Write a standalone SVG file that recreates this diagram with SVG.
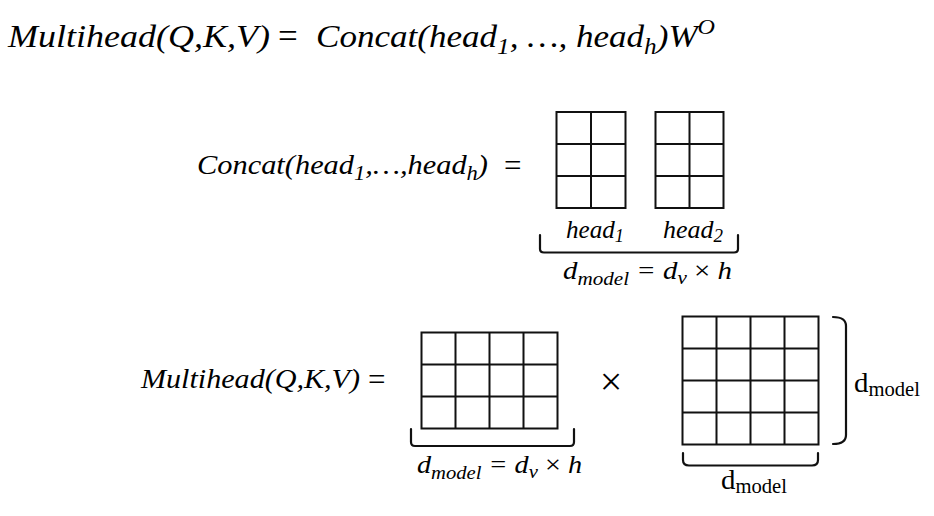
<svg xmlns="http://www.w3.org/2000/svg" width="934" height="516" viewBox="0 0 934 516">
<style>
.m{font-family:"Liberation Serif","Times New Roman",serif;font-style:italic;fill:#000}
.r{font-family:"Liberation Serif","Times New Roman",serif;fill:#000}
.g{fill:none;stroke:#111;stroke-width:2}
.b{fill:none;stroke:#111;stroke-width:2.2;stroke-linecap:round}
</style>
<rect width="934" height="516" fill="#fff"/>
<g id="title">
<text class="m" x="8" y="47" font-size="32" textLength="262" lengthAdjust="spacingAndGlyphs">Multihead(Q,K,V)</text>
<text class="r" x="278" y="48" font-size="35">=</text>
<text class="m" x="316" y="47" font-size="32" textLength="399" lengthAdjust="spacingAndGlyphs">Concat(head<tspan font-size="23" dy="7">1</tspan><tspan dy="-7">, …, head</tspan><tspan font-size="23" dy="7">h</tspan><tspan dy="-7">)W</tspan><tspan font-size="22" dy="-13">O</tspan></text>
</g>
<g id="concat-eq">
<text class="m" x="197" y="174" font-size="27" textLength="291" lengthAdjust="spacingAndGlyphs">Concat(head<tspan font-size="20" dy="6">1</tspan><tspan dy="-6">,…,head</tspan><tspan font-size="20" dy="6">h</tspan><tspan dy="-6">)</tspan></text>
<text class="r" x="504" y="176" font-size="31">=</text>
</g>
<g id="head1">
<rect class="g" x="556.5" y="112" width="69" height="96"/>
<path class="g" d="M591,112V208M556.5,144H625.5M556.5,176H625.5"/>
<text class="m" x="566" y="238" font-size="26" textLength="58" lengthAdjust="spacingAndGlyphs">head<tspan font-size="19" dy="4">1</tspan></text>
</g>
<g id="head2">
<rect class="g" x="655.5" y="112" width="68" height="96"/>
<path class="g" d="M689.5,112V208M655.5,144H723.5M655.5,176H723.5"/>
<text class="m" x="663" y="238" font-size="26" textLength="60" lengthAdjust="spacingAndGlyphs">head<tspan font-size="19" dy="4">2</tspan></text>
</g>
<g id="concat-dim">
<text class="m" x="563" y="279" font-size="26" textLength="169" lengthAdjust="spacingAndGlyphs">d<tspan font-size="19" dy="6">model</tspan><tspan dy="-6"> = d</tspan><tspan font-size="19" dy="5">v</tspan><tspan dy="-5" font-style="normal"> × </tspan><tspan>h</tspan></text>
</g>
<g id="multihead-eq">
<text class="m" x="141" y="388" font-size="28" textLength="219" lengthAdjust="spacingAndGlyphs">Multihead(Q,K,V)</text>
<text class="r" x="368" y="390" font-size="31">=</text>
</g>
<g id="concat-matrix">
<rect class="g" x="421.5" y="332.5" width="136" height="96"/>
<path class="g" d="M455.5,332.5V428.5M489.5,332.5V428.5M523.5,332.5V428.5M421.5,364.5H557.5M421.5,396.5H557.5"/>
<text class="m" x="417" y="473" font-size="26" textLength="165" lengthAdjust="spacingAndGlyphs">d<tspan font-size="19" dy="6">model</tspan><tspan dy="-6"> = d</tspan><tspan font-size="19" dy="5">v</tspan><tspan dy="-5" font-style="normal"> × </tspan><tspan>h</tspan></text>
</g>
<g id="times">
<text class="r" x="611" y="395" font-size="40" text-anchor="middle">×</text>
</g>
<g id="wo-matrix">
<rect class="g" x="682.5" y="316.5" width="136" height="128"/>
<path class="g" d="M716.5,316.5V444.5M750.5,316.5V444.5M784.5,316.5V444.5M682.5,348.5H818.5M682.5,380.5H818.5M682.5,412.5H818.5"/>
<text class="r" x="854" y="392" font-size="28" textLength="66" lengthAdjust="spacingAndGlyphs">d<tspan font-size="20" dy="4">model</tspan></text>
<text class="r" x="721" y="489" font-size="28" textLength="66" lengthAdjust="spacingAndGlyphs">d<tspan font-size="20" dy="4">model</tspan></text>
</g>
<g id="connectors">
<path class="b" d="M540,235V249Q540,252.5 544,252.5H734Q738,252.5 738,249V235"/>
<path class="b" d="M411,429V442Q411,446 415,446H570Q574,446 574,442V429"/>
<path class="b" d="M683,453V460Q683,465.5 689,465.5H812Q818,465.5 818,460V453"/>
<path class="b" d="M833,317Q846,317 846,326V435Q846,444 833,444"/>
</g>
</svg>
